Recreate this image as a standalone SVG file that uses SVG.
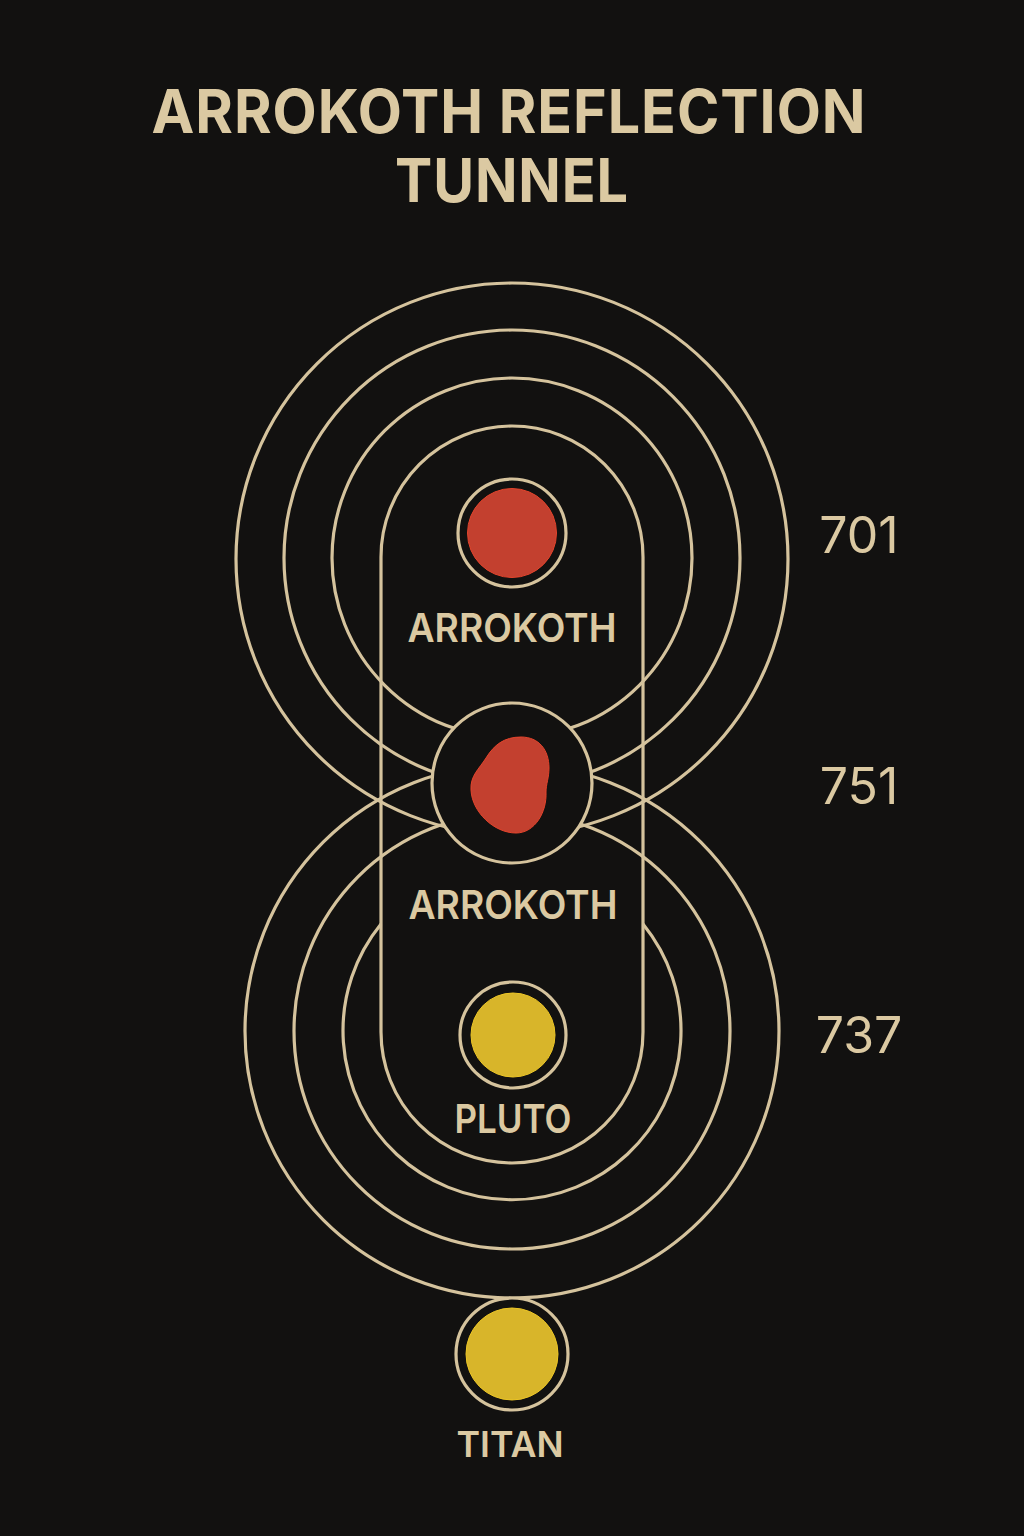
<svg xmlns="http://www.w3.org/2000/svg" width="1024" height="1536" viewBox="0 0 1024 1536">
<defs>
<style>
.bg{fill:#121110}
.ln{fill:none;stroke:#d5c39d;stroke-width:3.2}
.ring{fill:#121110;stroke:#d5c39d;stroke-width:3.2}
.t{font-family:Inter,"Noto Sans","Liberation Sans",sans-serif;fill:#dbc9a2;text-anchor:middle}
.title{font-size:60px;font-weight:700;letter-spacing:1px}
.lbl{font-size:40px;font-weight:600}
.num{font-size:50px;font-weight:400}
.red{fill:#c3402f;stroke:#e4442c;stroke-width:1}
.yel{fill:#d8b52a;stroke:#edc626;stroke-width:1}
</style>
</defs>
<rect class="bg" x="0" y="0" width="1024" height="1536"/>
<g id="title">
<text class="t title" x="509" y="133" textLength="715" lengthAdjust="spacingAndGlyphs">ARROKOTH REFLECTION</text>
<text class="t title" x="512" y="202" textLength="234" lengthAdjust="spacingAndGlyphs">TUNNEL</text>
</g>
<g id="connectors">
<circle class="ln" cx="512" cy="559" r="276"/>
<circle class="ln" cx="512" cy="558" r="228"/>
<circle class="ln" cx="512" cy="558" r="180"/>
<circle class="ln" cx="512" cy="1031" r="267"/>
<circle class="ln" cx="512" cy="1031" r="218"/>
<path class="ln" d="M 381 924 A 169 169 0 1 0 643 924"/>
<rect class="ln" x="381" y="426" width="262" height="737" rx="131" ry="131"/>
</g>
<g id="node-arrokoth-top">
<circle class="ring" cx="512" cy="533" r="54"/>
<circle class="red" cx="512" cy="533" r="44.5"/>
<text class="t lbl" x="512" y="642" textLength="209" lengthAdjust="spacingAndGlyphs">ARROKOTH</text>
</g>
<g id="node-arrokoth-mid">
<circle class="ring" cx="512" cy="783" r="80"/>
<path class="red" d="M 521 737 C 539 737 549 750 549 768 C 549 778 546 784 546 792 C 547 812 535 833 516 833 C 494 833 472 812 471 790 C 470 776 479 769 486 758 C 494 745 504 737 521 737 Z"/>
<text class="t lbl" x="513" y="919" textLength="209" lengthAdjust="spacingAndGlyphs">ARROKOTH</text>
</g>
<g id="node-pluto">
<circle class="ring" cx="513" cy="1035" r="53"/>
<circle class="yel" cx="513" cy="1035" r="42"/>
<text class="t lbl" x="513" y="1133" textLength="117" lengthAdjust="spacingAndGlyphs">PLUTO</text>
</g>
<g id="node-titan">
<circle class="ring" cx="512" cy="1354" r="56"/>
<circle class="yel" cx="512" cy="1354" r="46"/>
<text class="t lbl" x="510" y="1457" textLength="107" lengthAdjust="spacingAndGlyphs" style="font-size:36px">TITAN</text>
</g>
<g id="numbers">
<text class="t num" x="859" y="553">701</text>
<text class="t num" x="859" y="804">751</text>
<text class="t num" x="859" y="1053">737</text>
</g>
</svg>
